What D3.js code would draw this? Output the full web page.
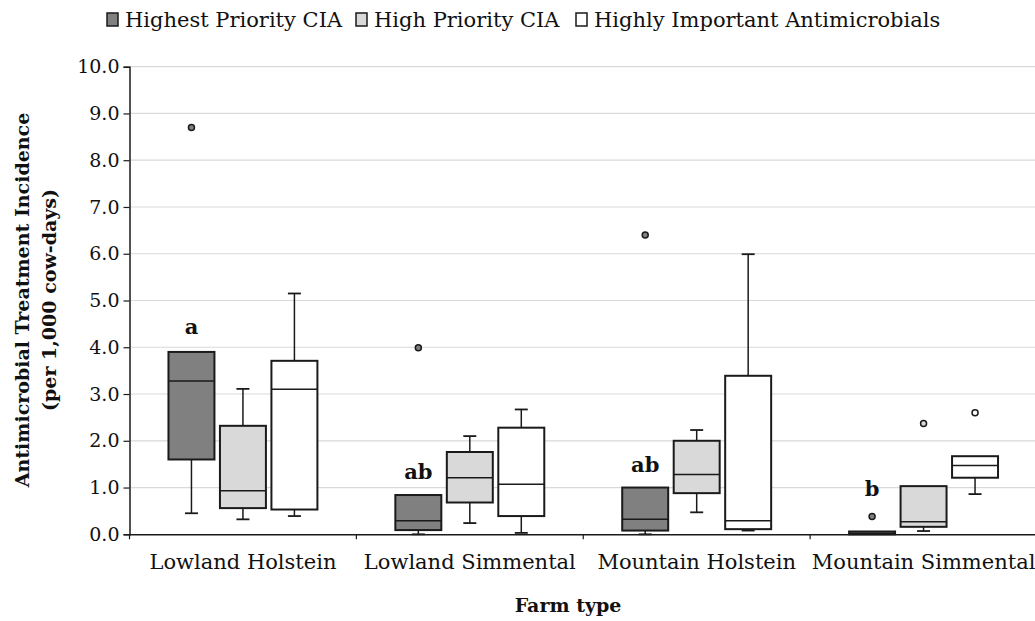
<!DOCTYPE html>
<html><head><meta charset="utf-8">
<script src="https://cdn.jsdelivr.net/npm/d3@7"></script>
<style>
body{margin:0;background:#fff;}
svg{display:block;font-family:"DejaVu Serif",serif;}
</style></head>
<body><svg id="c" width="1035" height="621"></svg>
<script>
const categories = ["Lowland Holstein","Lowland Simmental","Mountain Holstein","Mountain Simmental"];
const seriesNames = ["Highest Priority CIA","High Priority CIA","Highly Important Antimicrobials"];
const seriesColors = ["#808080","#d9d9d9","#ffffff"];
const yTicks = [0,1,2,3,4,5,6,7,8,9,10];
// [whiskerLow, Q1, median, Q3, whiskerHigh] per category
const highestPriority = [
  [0.45,1.60,3.28,3.90,3.90],
  [0.00,0.09,0.29,0.84,0.84],
  [0.00,0.08,0.32,1.00,1.00],
  [0.00,0.00,0.02,0.06,0.06]
];
const highPriority = [
  [0.32,0.56,0.93,2.32,3.11],
  [0.24,0.68,1.21,1.76,2.10],
  [0.47,0.88,1.28,2.00,2.23],
  [0.07,0.16,0.27,1.03,1.03]
];
const highlyImportant = [
  [0.39,0.53,3.10,3.71,5.15],
  [0.03,0.39,1.07,2.28,2.67],
  [0.08,0.11,0.29,3.39,5.99],
  [0.86,1.21,1.47,1.67,1.67]
];
const outliersHighest = [[8.70],[3.99],[6.40],[0.38]];
const outliersHigh = [[],[],[],[2.37]];
const outliersImportant = [[],[],[],[2.60]];
const sigLetters = ["a","ab","ab","b"];
const sigLetterY = [4.44,1.34,1.50,0.98];

const stats = [highestPriority, highPriority, highlyImportant];
const outs = [outliersHighest, outliersHigh, outliersImportant];

const svg = d3.select("#c");
const pLeft = 129.5, pRight = 1037, pTop = 66.7, pBottom = 534.3;
const y = d3.scaleLinear().domain([0,10]).range([pBottom, pTop]);
const x = d3.scaleBand().domain(categories).range([pLeft, pRight]).padding(0);
const xs = d3.scaleBand().domain(seriesNames).range([0, x.bandwidth()]).paddingInner(0.107).paddingOuter(0.757);
const ink = "#1a1a1a";

// gridlines
svg.append("g").selectAll("line").data(yTicks.filter(d=>d>0)).join("line")
  .attr("x1", pLeft).attr("x2", 1035).attr("y1", d=>y(d)).attr("y2", d=>y(d))
  .attr("stroke","#d9d9d9").attr("stroke-width",1.2);

// y axis
const yAxis = svg.append("g").attr("transform",`translate(${pLeft},0)`)
  .call(d3.axisLeft(y).tickValues(yTicks).tickFormat(d3.format(".1f")).tickSizeOuter(0).tickSize(6));
yAxis.select(".domain").attr("stroke",ink).attr("stroke-width",1.5);
yAxis.selectAll(".tick line").attr("stroke",ink).attr("stroke-width",1.2);
yAxis.selectAll("text").attr("font-size",19).attr("fill","#111").attr("x",-10).attr("font-family","DejaVu Serif");

// x axis
const xAxis = svg.append("g").attr("transform",`translate(0,${pBottom})`)
  .call(d3.axisBottom(x).tickSize(0).tickSizeOuter(0).tickPadding(20));
xAxis.select(".domain").attr("stroke",ink).attr("stroke-width",1.5);
xAxis.selectAll("text").attr("font-size",21).attr("fill","#111").attr("font-family","DejaVu Serif");
svg.append("g").selectAll("line").data(categories).join("line")
  .attr("x1",d=>x(d)).attr("x2",d=>x(d)).attr("y1",pBottom).attr("y2",pBottom+5)
  .attr("stroke",ink).attr("stroke-width",1.2);

// boxes
seriesNames.forEach((s,si)=>{
  const g = svg.append("g");
  categories.forEach((c,ci)=>{
    const [lo,q1,med,q3,hi] = stats[si][ci];
    const bx = x(c)+xs(s), bw = xs.bandwidth(), cx = bx+bw/2, cap = 6.5;
    if (hi>q3){
      g.append("line").attr("x1",cx).attr("x2",cx).attr("y1",y(q3)).attr("y2",y(hi)).attr("stroke",ink).attr("stroke-width",1.5);
      g.append("line").attr("x1",cx-cap).attr("x2",cx+cap).attr("y1",y(hi)).attr("y2",y(hi)).attr("stroke",ink).attr("stroke-width",1.8);
    }
    if (lo<q1){
      g.append("line").attr("x1",cx).attr("x2",cx).attr("y1",y(q1)).attr("y2",y(lo)).attr("stroke",ink).attr("stroke-width",1.5);
      g.append("line").attr("x1",cx-cap).attr("x2",cx+cap).attr("y1",y(lo)).attr("y2",y(lo)).attr("stroke",ink).attr("stroke-width",1.8);
    }
    g.append("rect").attr("x",bx).attr("y",y(q3)).attr("width",bw).attr("height",Math.max(y(q1)-y(q3),1))
      .attr("fill",seriesColors[si]).attr("stroke",ink).attr("stroke-width",2);
    g.append("line").attr("x1",bx).attr("x2",bx+bw).attr("y1",y(med)).attr("y2",y(med)).attr("stroke",ink).attr("stroke-width",1.5);
    outs[si][ci].forEach(v=>{
      g.append("circle").attr("cx",cx).attr("cy",y(v)).attr("r",3)
        .attr("fill",seriesColors[si]).attr("stroke",ink).attr("stroke-width",1.5);
    });
  });
});

// significance letters
svg.append("g").selectAll("text").data(categories).join("text")
  .attr("x",c=>x(c)+xs(seriesNames[0])+xs.bandwidth()/2)
  .attr("y",(c,i)=>y(sigLetterY[i]))
  .attr("dy","0.35em").attr("text-anchor","middle").attr("font-weight","bold").attr("font-size",21)
  .attr("fill","#111").text((c,i)=>sigLetters[i]);

// axis titles
svg.append("text").attr("x",568).attr("y",612).attr("text-anchor","middle")
  .attr("font-weight","bold").attr("font-size",19).attr("fill","#111").text("Farm type");
const yt = svg.append("text").attr("transform","translate(0,300) rotate(-90)").attr("text-anchor","middle")
  .attr("font-weight","bold").attr("font-size",19).attr("fill","#111");
yt.append("tspan").attr("x",0).attr("y",29).text("Antimicrobial Treatment Incidence");
yt.append("tspan").attr("x",0).attr("y",56).text("(per 1,000 cow-days)");

// legend
const legX = [107,356,576];
const leg = svg.append("g");
seriesNames.forEach((s,i)=>{
  leg.append("rect").attr("x",legX[i]).attr("y",13).attr("width",11).attr("height",13)
    .attr("fill",seriesColors[i]).attr("stroke",ink).attr("stroke-width",1.5);
  leg.append("text").attr("x",legX[i]+18).attr("y",27).attr("font-size",21).attr("fill","#111").text(s);
});
</script></body></html>
